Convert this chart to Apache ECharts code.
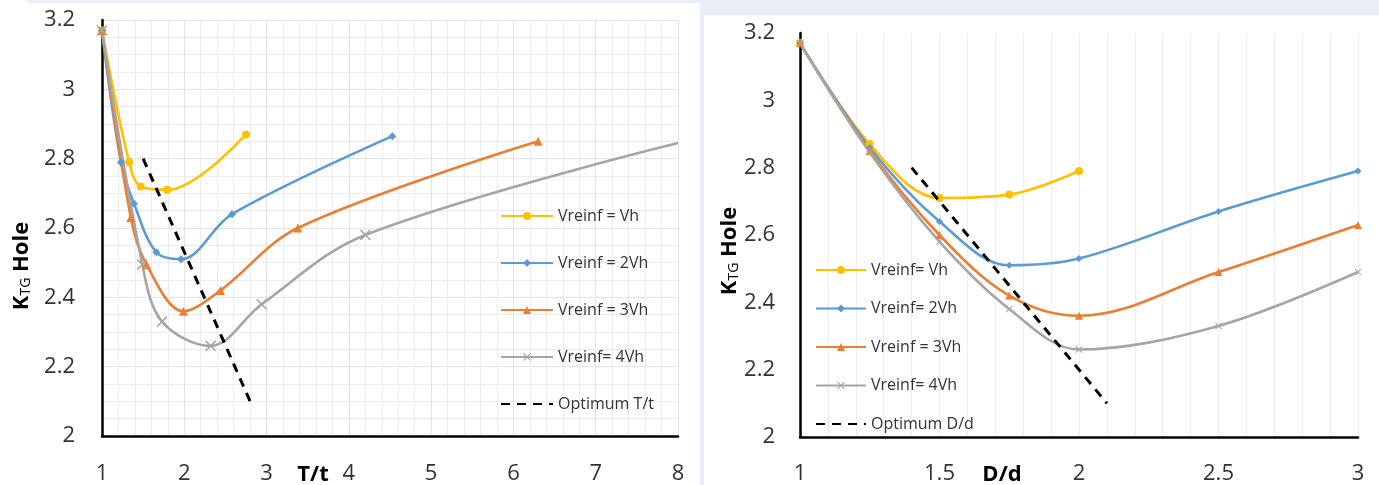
<!DOCTYPE html>
<html lang="en">
<head>
<meta charset="UTF-8">
<title>KTG Hole</title>
<script src="https://cdn.jsdelivr.net/npm/echarts@6/dist/echarts.min.js"></script>
<style>
    body { margin: 0; padding: 0; background: #fff; }
    #chart { width: 1379px; height: 485px; }
</style>
</head>
<body>
<div id="chart"></div>
<script>
// ---- left panel: T/t ----
var ttVhX  = [1, 1.33, 1.47, 1.79, 2.75];
var ttVhY  = [3.17, 2.79, 2.72, 2.71, 2.87];
var tt2VhX = [1, 1.23, 1.39, 1.66, 1.96, 2.58, 4.53];
var tt2VhY = [3.17, 2.79, 2.67, 2.53, 2.51, 2.64, 2.865];
var tt3VhX = [1, 1.35, 1.54, 1.99, 2.44, 3.38, 6.30];
var tt3VhY = [3.17, 2.63, 2.495, 2.36, 2.42, 2.60, 2.85];
var tt4VhX = [1, 1.49, 1.73, 2.32, 2.94, 4.20, 8];
var tt4VhY = [3.17, 2.495, 2.33, 2.26, 2.38, 2.58, 2.845];
var ttOptX = [1.5, 2.8];
var ttOptY = [2.8, 2.1];

// ---- right panel: D/d ----
var ddX    = [1, 1.25, 1.5, 1.75, 2, 2.5, 3];
var ddVhY  = [3.17, 2.87, 2.71, 2.72, 2.79];
var dd2VhY = [3.17, 2.86, 2.64, 2.51, 2.53, 2.67, 2.79];
var dd3VhY = [3.17, 2.85, 2.60, 2.42, 2.36, 2.49, 2.63];
var dd4VhY = [3.17, 2.845, 2.58, 2.38, 2.26, 2.33, 2.49];
var ddOptX = [1.4, 2.1];
var ddOptY = [2.8, 2.1];

var ttNames = ['Vreinf = Vh', 'Vreinf = 2Vh', 'Vreinf = 3Vh', 'Vreinf= 4Vh', 'Optimum T/t'];
var ddNames = ['Vreinf= Vh', 'Vreinf= 2Vh', 'Vreinf = 3Vh', 'Vreinf= 4Vh', 'Optimum D/d'];

var colors = ['#FFC000', '#5B9BD5', '#ED7D31', '#A5A5A5', '#000000'];
var crossPath = 'path://M0,1L1,0L5,4L9,0L10,1L6,5L10,9L9,10L5,6L1,10L0,9L4,5Z';

function zip(xs, ys) {
    var out = [];
    for (var i = 0; i < ys.length; i++) out.push([xs[i], ys[i]]);
    return out;
}

function curve(name, idx, data, symbol, size, color) {
    return {
        name: name, type: 'line', xAxisIndex: idx, yAxisIndex: idx,
        data: data, smooth: 0.35, symbol: symbol, symbolSize: size,
        itemStyle: { color: color },
        lineStyle: { color: color, width: 2.6 }
    };
}

function dashed(name, idx, data) {
    return {
        name: name, type: 'line', xAxisIndex: idx, yAxisIndex: idx,
        data: data, symbol: 'none', z: 5,
        itemStyle: { color: '#000' },
        lineStyle: { color: '#000', width: 3, type: [9, 7] }
    };
}

// legend entries; the dashed one gets no marker
function legendData(names) {
    return names.map(function (n, i) {
        return i === 4 ? { name: n, itemStyle: { opacity: 0 } } : { name: n };
    });
}

var label = { color: '#333', fontSize: 22, fontFamily: 'Open Sans' };
var legendText = { color: '#333', fontSize: 16, lineHeight: 16, fontFamily: 'Open Sans' };
var yName = {
    k: { fontSize: 22, fontWeight: 'bold', fill: '#000', fontFamily: 'Open Sans' },
    s: { fontSize: 14, fill: '#000', fontFamily: 'Open Sans', verticalAlign: 'bottom', padding: [8, 0, 0, 0] }
};

// gray end point sits on the frame edge, no marker there
var tt4Data = zip(tt4VhX, tt4VhY);
tt4Data[tt4Data.length - 1] = { value: tt4Data[tt4Data.length - 1], symbol: 'none' };

var myChart = echarts.init(document.getElementById('chart'));

var option = {
    animation: false,
    backgroundColor: '#fff',
    textStyle: { fontFamily: 'Open Sans' },
    grid: [
        { left: 102, right: 701, top: 20, bottom: 48 },
        { left: 800, right: 21, top: 33, bottom: 48 }
    ],
    xAxis: [
        {
            gridIndex: 0, type: 'value', min: 1, max: 8, interval: 1,
            axisLine: { lineStyle: { color: '#000', width: 2.5 } },
            axisTick: { show: false },
            axisLabel: Object.assign({ margin: 27 }, label),
            splitLine: { show: true, lineStyle: { color: '#e4e4e4' } },
            minorTick: { show: false, splitNumber: 5 },
            minorSplitLine: { show: true, lineStyle: { color: '#ececec' } }
        },
        {
            gridIndex: 1, type: 'value', min: 1, max: 3, interval: 0.5,
            axisLine: { lineStyle: { color: '#000', width: 2.5 } },
            axisTick: { show: false },
            axisLabel: Object.assign({ margin: 26 }, label),
            splitLine: { show: true, lineStyle: { color: '#eeeeee' } },
            minorTick: { show: false, splitNumber: 5 },
            minorSplitLine: { show: true, lineStyle: { color: '#eeeeee' } }
        }
    ],
    yAxis: [
        {
            gridIndex: 0, type: 'value', min: 2, max: 3.2, interval: 0.2,
            axisLine: { show: true, lineStyle: { color: '#000', width: 2.5 } },
            axisTick: { show: false },
            axisLabel: Object.assign({ margin: 27 }, label),
            splitLine: { show: true, lineStyle: { color: '#e4e4e4' } },
            minorTick: { show: false, splitNumber: 4 },
            minorSplitLine: { show: true, lineStyle: { color: '#ececec' } }
        },
        {
            gridIndex: 1, type: 'value', min: 2, max: 3.2, interval: 0.2,
            axisLine: { show: true, lineStyle: { color: '#000', width: 2.5 } },
            axisTick: { show: false },
            axisLabel: Object.assign({ margin: 25 }, label),
            splitLine: { show: false }
        }
    ],
    legend: [
        {
            data: legendData(ttNames), orient: 'vertical', left: 495, top: 203,
            itemWidth: 52, itemHeight: 10, itemGap: 31, textStyle: legendText
        },
        {
            data: legendData(ddNames), orient: 'vertical', left: 810, top: 257,
            itemWidth: 50, itemHeight: 10, itemGap: 22.5, textStyle: legendText
        }
    ],
    graphic: [
        // light frame bands around the two panels
        { type: 'rect', z: -10, shape: { x: 27, y: 0, width: 673, height: 3 }, style: { fill: '#eaeef8' } },
        { type: 'rect', z: -10, shape: { x: 700, y: 0, width: 679, height: 15 }, style: { fill: '#eaeef8' } },
        { type: 'rect', z: -10, shape: { x: 700, y: 0, width: 4, height: 485 }, style: { fill: '#eaeef8' } },
        {
            type: 'text', x: 22, y: 266, rotation: Math.PI / 2,
            style: { text: '{k|K}{s|TG}{k| Hole}', align: 'center', verticalAlign: 'middle', rich: yName }
        },
        {
            type: 'text', x: 730, y: 251, rotation: Math.PI / 2,
            style: { text: '{k|K}{s|TG}{k| Hole}', align: 'center', verticalAlign: 'middle', rich: yName }
        },
        {
            type: 'text', x: 313, y: 475,
            style: { text: 'T/t', align: 'center', verticalAlign: 'middle', fontSize: 22, fontWeight: 'bold', fill: '#000', fontFamily: 'Open Sans' }
        },
        {
            type: 'text', x: 1002, y: 475,
            style: { text: 'D/d', align: 'center', verticalAlign: 'middle', fontSize: 22, fontWeight: 'bold', fill: '#000', fontFamily: 'Open Sans' }
        }
    ],
    series: [
        curve(ttNames[0], 0, zip(ttVhX, ttVhY), 'circle', 8, colors[0]),
        curve(ttNames[1], 0, zip(tt2VhX, tt2VhY), 'diamond', 8, colors[1]),
        curve(ttNames[2], 0, zip(tt3VhX, tt3VhY), 'triangle', 9, colors[2]),
        curve(ttNames[3], 0, tt4Data, crossPath, 11, colors[3]),
        dashed(ttNames[4], 0, zip(ttOptX, ttOptY)),

        curve(ddNames[0], 1, zip(ddX, ddVhY), 'circle', 8, colors[0]),
        curve(ddNames[1], 1, zip(ddX, dd2VhY), 'diamond', 7, colors[1]),
        curve(ddNames[2], 1, zip(ddX, dd3VhY), 'triangle', 8, colors[2]),
        curve(ddNames[3], 1, zip(ddX, dd4VhY), crossPath, 7, colors[3]),
        dashed(ddNames[4], 1, zip(ddOptX, ddOptY))
    ]
};

myChart.setOption(option);
</script>
</body>
</html>
